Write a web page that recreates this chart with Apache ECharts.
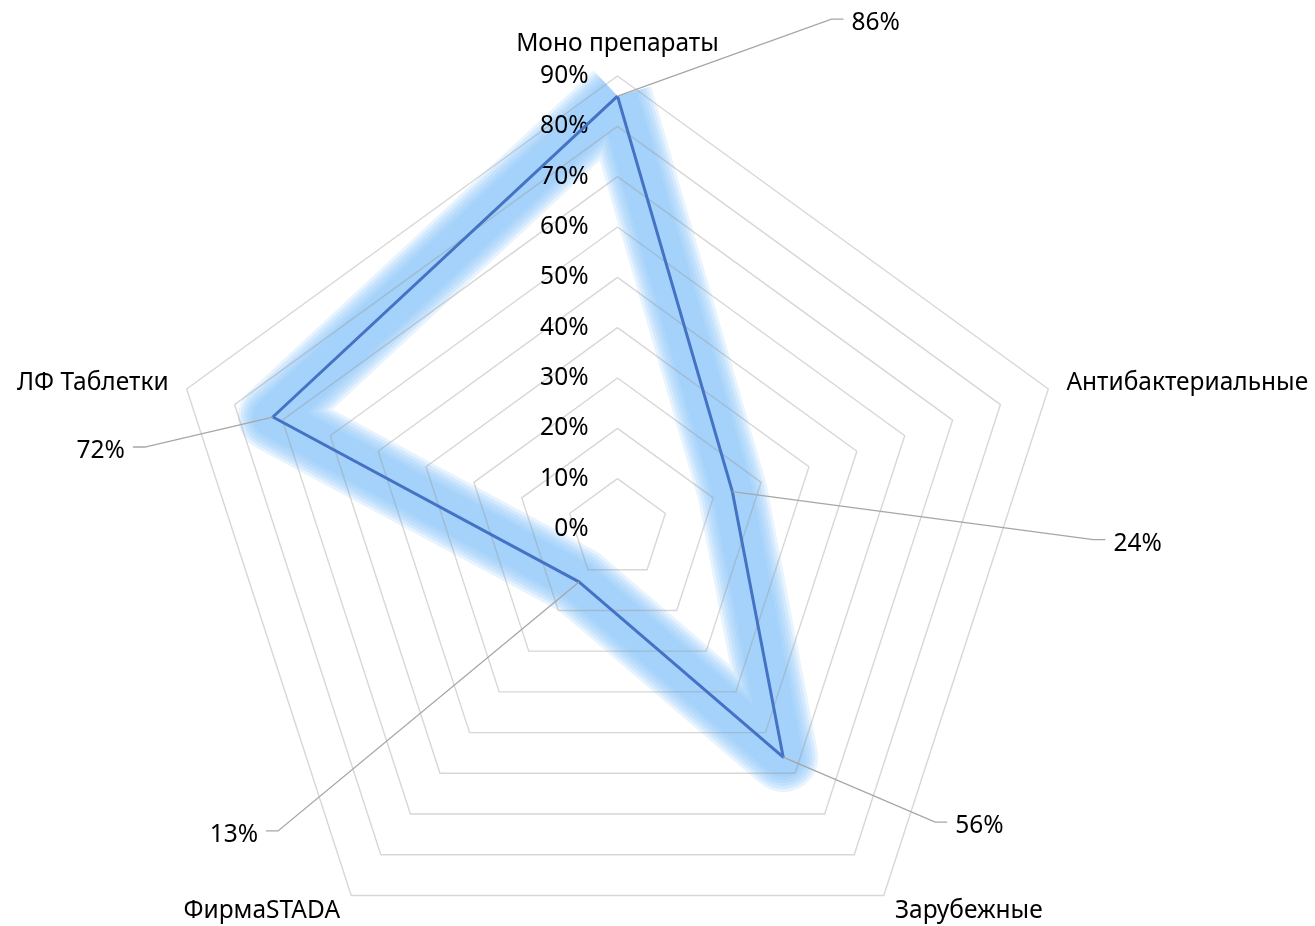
<!DOCTYPE html>
<html>
<head>
<meta charset="utf-8">
<script src="https://cdn.jsdelivr.net/npm/echarts@6/dist/echarts.min.js"></script>
<style>
  html, body { margin: 0; padding: 0; background: #fff; }
  #chart { width: 1315px; height: 926px; }
</style>
</head>
<body>
<div id="chart"></div>
<script>
// категории по часовой стрелке, начиная сверху (порядок Excel)
var categories = ['Моно препараты', 'Антибактериальные', 'Зарубежные', 'ФирмаSTADA', 'ЛФ Таблетки'];
var values = [86, 24, 56, 13, 72];
var tickLabels = ['0%', '10%', '20%', '30%', '40%', '50%', '60%', '70%', '80%', '90%'];
var axisMax = 90;

// выноски подписей: смещение излома от вершины, px
var labelOffsets = [[214, -77], [361, 48], [152, 65], [-301, 249], [-128, 30]];
// слои свечения (ширина линии, px)
var glowWidths = [70, 64, 58, 52, 46, 40];

var FONT = 'Noto Sans';
var FSIZE = 24.5;
var cx = 617.5, cy = 529, R = 453;

// echarts рисует радар против часовой стрелки
var order = [0, 4, 3, 2, 1];
var indicators = order.map(function (i, k) {
  var ind = { name: categories[i], min: 0, max: axisMax };
  if (k === 0) ind.axisLabel = { show: true };
  return ind;
});
var radarValues = order.map(function (i) { return values[i]; });

var glowSeries = glowWidths.map(function (w) {
  return {
    type: 'radar',
    z: 1,
    silent: true,
    symbol: 'none',
    lineStyle: { color: 'rgba(133,196,249,0.2)', width: w, join: 'round' },
    data: [{ value: radarValues }]
  };
});

var chart = echarts.init(document.getElementById('chart'));
var option = {
  backgroundColor: '#fff',
  animation: false,
  radar: {
    center: [cx, cy],
    radius: R,
    startAngle: 90,
    splitNumber: 9,
    shape: 'polygon',
    z: 3,
    indicator: indicators,
    nameGap: 19,
    axisName: { color: '#000', fontSize: FSIZE, fontFamily: FONT },
    axisLine: { show: false },
    axisTick: { show: false },
    axisLabel: {
      show: false,
      color: '#000',
      fontSize: FSIZE,
      fontFamily: FONT,
      margin: 29,
      formatter: function (v) { return tickLabels[Math.round(v / 10)]; }
    },
    splitLine: { lineStyle: { color: 'rgba(150,150,150,0.38)', width: 1.4 } },
    splitArea: { show: false }
  },
  polar: { center: [cx, cy], radius: R },
  angleAxis: { type: 'value', min: 0, max: 360, startAngle: 90, clockwise: true, show: false },
  radiusAxis: { type: 'value', min: 0, max: axisMax, show: false },
  series: glowSeries.concat([
    {
      type: 'radar',
      z: 5,
      silent: true,
      symbol: 'none',
      lineStyle: { color: '#4472C4', width: 3 },
      data: [{ value: radarValues }]
    },
    {
      // подписи данных с выносками
      type: 'custom',
      coordinateSystem: 'polar',
      z: 6,
      silent: true,
      data: values.map(function (v, i) { return [v, i * 360 / categories.length]; }),
      renderItem: function (params, api) {
        var p = api.coord([api.value(0), api.value(1)]);
        var off = labelOffsets[params.dataIndex];
        var dir = off[0] >= 0 ? 1 : -1;
        var ex = p[0] + off[0], ey = p[1] + off[1];
        return {
          type: 'group',
          children: [
            {
              type: 'polyline',
              shape: { points: [p, [ex, ey], [ex + dir * 12, ey]] },
              style: { stroke: '#A6A6A6', lineWidth: 1.3, fill: null }
            },
            {
              type: 'text',
              style: {
                x: ex + dir * 20,
                y: ey + 4,
                text: values[params.dataIndex] + '%',
                fill: '#000',
                font: FSIZE + 'px "' + FONT + '"',
                align: dir > 0 ? 'left' : 'right',
                verticalAlign: 'middle'
              }
            }
          ]
        };
      }
    }
  ])
};
chart.setOption(option);
</script>
</body>
</html>
